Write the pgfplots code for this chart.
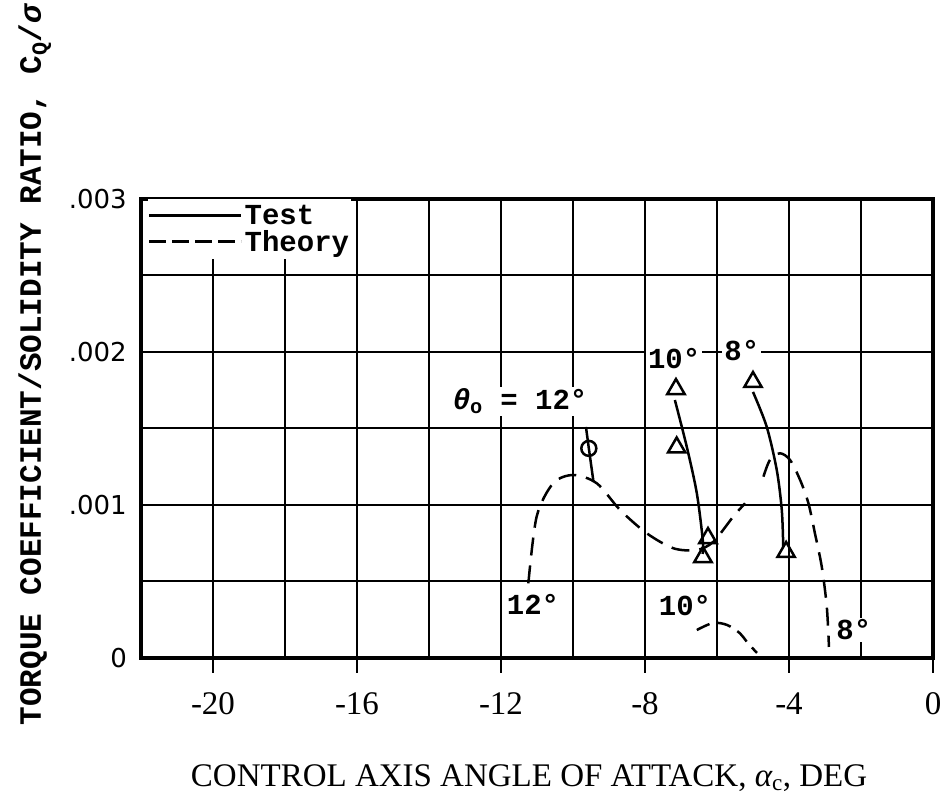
\documentclass[border=0pt]{standalone}
\usepackage{fontspec}
\setmainfont{Liberation Serif}
\newfontfamily\monofont{Liberation Mono}
\newfontfamily\sansfont{DejaVu Sans}
\usepackage{pgfplots}
\pgfplotsset{compat=1.18}
\newcommand{\lblfont}{\monofont\bfseries\fontsize{29}{34}\selectfont}
\begin{document}
\begin{tikzpicture}
\path[use as bounding box] (-141pt,-147pt) rectangle (805pt,658pt);
\begin{axis}[
  scale only axis, width=792pt, height=459pt,
  xmin=-22, xmax=0, ymin=0, ymax=0.003,
  xtick={-20,-16,-12,-8,-4,0},
  xticklabels={-20,-16,-12,-8,-4,0},
  minor xtick={-22,-18,-14,-10,-6,-2},
  ytick={0,0.001,0.002,0.003},
  yticklabels={0,.001,.002,.003},
  minor ytick={0.0005,0.0015,0.0025},
  scaled y ticks=false,
  grid=both,
  grid style={line width=2pt, black},
  minor grid style={line width=2pt, black},
  axis line style={line width=4pt},
  xtick pos=bottom, ytick pos=left,
  xtick align=outside,
  major tick length=15pt, minor tick length=0pt,
  xtick style={line width=2pt, black},
  ytick style={draw=none},
  xticklabel style={font=\fontsize{33}{38}\selectfont, anchor=base, inner sep=0pt, yshift=-42pt},
  yticklabel style={font=\sansfont\fontsize{26}{30}\selectfont, anchor=east, inner sep=0pt, xshift=-14pt},
  xlabel={CONTROL AXIS ANGLE OF ATTACK, {\itshape α}\textsubscript{c}, DEG},
  xlabel style={at={(axis description cs:0.49,0)}, anchor=base, yshift=-129pt, font=\fontsize{33}{38}\selectfont},
  ylabel={TORQUE COEFFICIENT/SOLIDITY RATIO, C\textsubscript{Q}/{\itshape σ}},
  ylabel style={at={(axis description cs:-0.134,0.638)}, anchor=center, font=\monofont\bfseries\fontsize{31}{36}\selectfont},
  legend style={at={(axis cs:-22,0.003)}, anchor=north west, xshift=7pt, draw=none, fill=white,
    inner xsep=0pt, inner ysep=4pt, font=\lblfont, row sep=0pt, column sep=0pt},
  legend cell align=left,
  legend image code/.code={\draw[#1] (0pt,0pt) -- (92pt,0pt);},
]
% legend
\addlegendimage{black, line width=2.5pt}
\addlegendentry{Test}
\addlegendimage{black, line width=2.5pt, dash pattern=on 17pt off 6pt}
\addlegendentry{Theory}

% Theory curves (dashed)
\addplot[black, line width=2.5pt, dash pattern=on 18pt off 10pt, smooth, forget plot] coordinates {
 (-11.24,0.000488) (-11.01,0.000924) (-10.55,0.001142) (-9.99,0.001196) (-9.34,0.001142)
 (-8.69,0.000967) (-7.95,0.000815) (-7.21,0.000717) (-6.56,0.000706) (-6.10,0.000760)
 (-5.55,0.000924) (-5.22,0.001011)};
\addplot[black, line width=2.5pt, dash pattern=on 14pt off 8pt, smooth, forget plot] coordinates {
 (-6.56,0.000183) (-6.11,0.000229) (-5.72,0.000216) (-5.36,0.000161) (-5.17,0.000105) (-4.89,0.000033)};
\addplot[black, line width=2.5pt, dash pattern=on 18pt off 10pt, smooth, forget plot] coordinates {
 (-4.71,0.001185) (-4.53,0.001294) (-4.25,0.001338) (-3.97,0.001294) (-3.69,0.001163)
 (-3.46,0.001011) (-3.28,0.000815) (-3.09,0.000597) (-2.95,0.000335) (-2.89,0.000072)};

% Test curves (solid)
\addplot[black, line width=2.5pt, forget plot] coordinates {
 (-9.64,0.00151) (-9.56,0.00137) (-9.43,0.00115)};
\addplot[only marks, mark=o, mark size=7.5pt, mark options={line width=2.5pt, fill=white}, forget plot] coordinates {
 (-9.56,0.00137)};
\addplot[black, line width=2.5pt, smooth, forget plot] coordinates {
 (-7.17,0.001686) (-6.84,0.001381) (-6.56,0.001076) (-6.39,0.000760) (-6.40,0.00068)};
\addplot[only marks, mark=triangle, mark size=10pt, mark options={line width=2.5pt, fill=white}, forget plot] coordinates {
 (-7.14,0.001758) (-7.12,0.001376) (-6.25,0.000784) (-6.39,0.000660)};
\addplot[black, line width=2.5pt, smooth, forget plot] coordinates {
 (-5.00,0.001739) (-4.62,0.001512) (-4.34,0.001229) (-4.20,0.000967) (-4.16,0.000727)};
\addplot[only marks, mark=triangle, mark size=10pt, mark options={line width=2.5pt, fill=white}, forget plot] coordinates {
 (-5.00,0.001804) (-4.08,0.000693)};

% labels
\node[fill=white, inner sep=2pt, font=\lblfont] at (axis cs:-7.19,0.00196) {10°};
\node[fill=white, inner sep=2pt, font=\lblfont] at (axis cs:-5.31,0.00201) {8°};
\node[fill=white, inner sep=2pt, font=\lblfont, anchor=base] at (axis cs:-11.47,0.001621) {{\itshape θ}\textsubscript{o} = 12°};
\node[fill=white, inner sep=2pt, font=\lblfont] at (axis cs:-11.11,0.000353) {12°};
\node[fill=white, inner sep=2pt, font=\lblfont] at (axis cs:-6.89,0.000346) {10°};
\node[fill=white, inner sep=2pt, font=\lblfont] at (axis cs:-2.2,0.000183) {8°};
\end{axis}
\end{tikzpicture}
\end{document}
